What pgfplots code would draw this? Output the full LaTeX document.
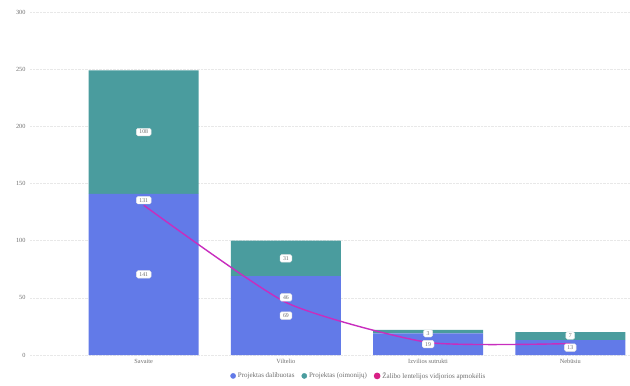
\documentclass[border=0pt]{standalone}
\usepackage{pgfplots}
\pgfplotsset{compat=1.18}
\usepackage{fontspec}
\setmainfont{Liberation Serif}
\definecolor{cblue}{RGB}{98,122,232}
\definecolor{cteal}{RGB}{74,156,158}
\definecolor{cmag}{RGB}{200,45,190}
\definecolor{clab}{RGB}{110,110,110}
\begin{document}
\begin{tikzpicture}
\pgfplotsset{base/.style={
  width=600pt,height=343pt,scale only axis,
  xmin=-0.8,xmax=3.42,ymin=0,ymax=300,
  axis line style={draw=none}, major tick length=0pt,
  xtick={0,1,2,3}, ytick={0,50,...,300},
  tick label style={font=\fontsize{6.3}{7}\selectfont, text=clab},
  /pgf/number format/assume math mode=true,
  clip=false}}
\tikzset{labbox/.style={fill=white, draw=gray!20, rounded corners=1.5pt, inner xsep=3pt, inner ysep=1.8pt,
  font=\fontsize{5.8}{6}\selectfont, text=clab, anchor=center}}
\useasboundingbox (-30pt,-31pt) rectangle (600pt,355pt);
\begin{axis}[base, ybar stacked, bar width=110pt,
  xticklabels={Savaite, Viltelio, Izvilios sutrukti, Nebūsiu},
  ymajorgrids, grid style={gray!18, densely dotted},
  yticklabel style={xshift=-1pt}, xticklabel style={yshift=-1pt}]
\addplot[fill=cblue, draw=none] coordinates {(0,141) (1,69) (2,19) (3,13)};
\addplot[fill=cteal, draw=none] coordinates {(0,108) (1,31) (2,3) (3,7)};
\end{axis}
\begin{axis}[base, xticklabels={}, yticklabels={},
  legend style={at={(0.548,-0.061)}, anchor=center, draw=none, fill=none,
    legend columns=3, font=\fontsize{7}{8}\selectfont, text=clab,
    /tikz/every even column/.append style={column sep=5pt}},
  legend cell align=left]
\addlegendimage{legend image code/.code={\fill[cblue] (0.3em,0) circle (2.6pt);}}
\addlegendentry{Projektas dalibuotas}
\addlegendimage{legend image code/.code={\fill[cteal] (0.3em,0) circle (2.6pt);}}
\addlegendentry{Projektas (oimonijų)}
\addplot[cmag, line width=1.4pt, smooth, tension=0.35, mark=none,
  legend image code/.code={\fill[cmag!70!red] (0.3em,0) circle (2.6pt);}]
  coordinates {(0,131) (1,46) (2,11) (3,10)};
\addlegendentry{Žalibo lentelijos vidjorios apmokėlis}
\addplot[draw=none, mark=none, forget plot, nodes near coords, point meta=explicit symbolic,
  every node near coord/.style={labbox}] table[meta=l] {
x y l
0 70.5 141
1 34.5 69
2 9.5 19
3 6.5 13
0 195 108
1 84.5 31
2 19 3
3 17 7
};
\addplot[draw=none, mark=none, forget plot, nodes near coords, point meta=explicit symbolic,
  every node near coord/.style={labbox, yshift=5pt}] table[meta=l] {
x y l
0 131 131
1 46 46
};
\end{axis}
\end{tikzpicture}
\end{document}
